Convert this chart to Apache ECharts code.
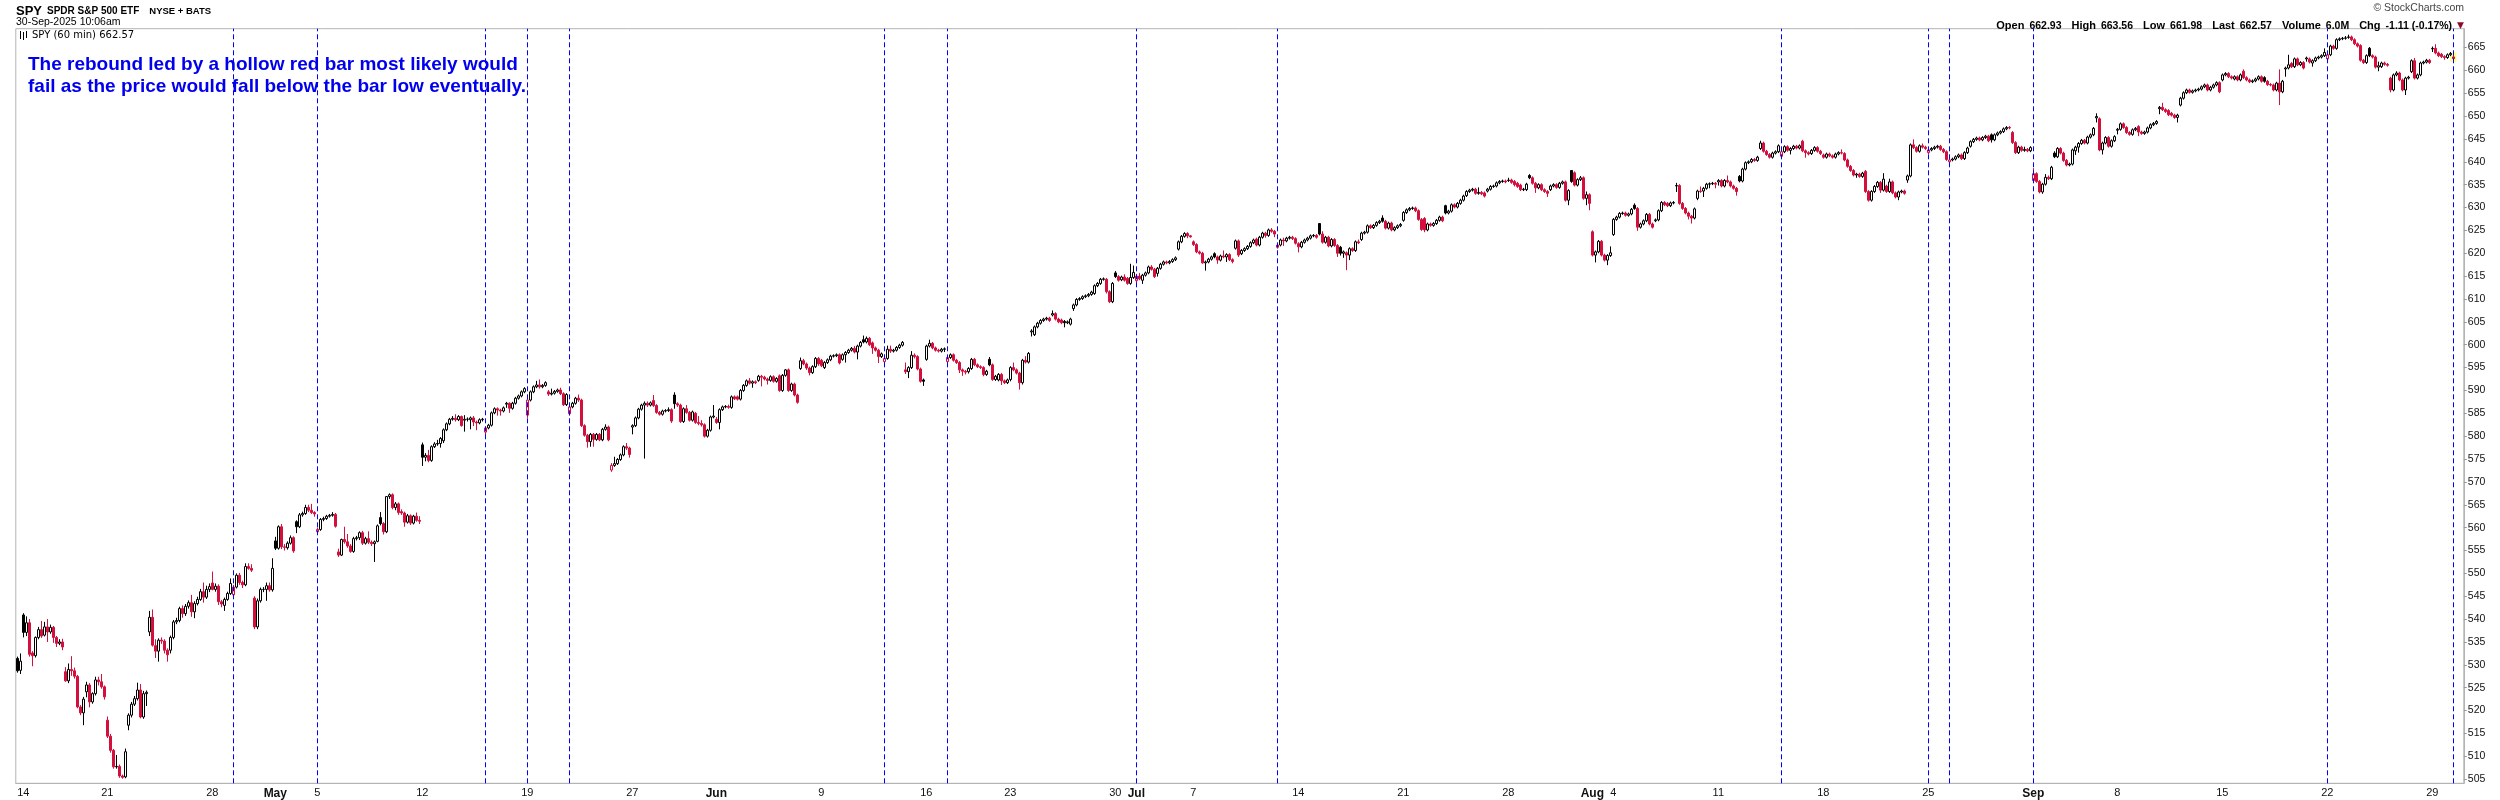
<!DOCTYPE html>
<html><head><meta charset="utf-8">
<script src="https://cdn.jsdelivr.net/npm/echarts@6/dist/echarts.min.js"></script>
<style>html,body{margin:0;padding:0;background:#fff}#c{width:2500px;height:800px}</style>
</head><body><div id="c"></div>
<script>
// Hourly candles per trading day: [open, close, low, high]
const APR = [
['04-11',[[531.4,528.7,528.3,531.8],[528.8,530.8,528.0,532.5]]],
['04-14',[[540.9,537.1,536.0,541.3],[537.1,539.2,536.3,540.6],[539.2,532.3,531.8,540.0],[532.6,532.0,529.7,533.0],[532.0,536.0,531.6,536.2],[536.0,537.7,535.6,538.3],[537.7,536.3,535.9,539.6]]],
['04-15',[[536.5,538.3,536.2,539.4],[538.3,537.2,535.0,540.0],[537.2,538.2,536.8,538.8],[538.2,536.0,534.8,538.5],[536.0,534.7,533.9,536.3],[534.7,535.0,534.3,535.6],[535.0,533.9,533.2,535.7]]],
['04-16',[[528.5,526.5,526.3,529.5],[526.5,529.0,526.0,530.3],[529.0,528.7,527.6,531.9],[528.7,527.5,527.0,529.4],[527.5,520.8,520.5,527.8],[520.8,519.5,519.0,521.2],[519.5,522.5,516.8,523.0]]],
['04-17',[[524.1,525.6,522.9,526.3],[525.6,521.9,520.7,526.0],[521.9,523.7,521.5,524.0],[523.7,526.7,523.3,527.4],[526.7,526.3,525.5,527.4],[526.3,525.2,524.8,528.0],[525.2,523.0,522.4,525.5]]],
['04-21',[[517.9,514.4,514.0,518.7],[514.4,511.3,510.8,514.9],[511.3,507.7,507.3,511.6],[507.7,507.8,507.3,510.3],[507.8,505.7,505.3,508.2],[505.7,505.4,505.1,506.0],[505.5,511.0,505.2,511.7]]],
['04-22',[[516.8,519.0,515.7,519.4],[519.0,521.4,518.5,521.9],[521.4,522.6,521.0,523.2],[522.6,524.5,522.2,526.1],[524.5,518.6,518.3,525.8],[518.6,523.7,518.2,524.3],[523.7,524.0,521.0,524.4]]],
['04-23',[[537.2,540.4,536.3,541.8],[540.4,534.3,534.0,542.1],[534.2,533.0,531.5,535.6],[533.0,535.4,530.7,535.8],[535.4,535.2,534.6,536.0],[535.2,533.2,532.5,535.6],[533.2,532.2,530.7,533.6]]],
['04-24',[[533.2,536.0,532.5,536.4],[536.0,539.4,535.6,539.8],[539.4,539.7,538.9,540.3],[539.7,542.3,539.3,542.7],[542.3,541.2,540.3,543.0],[541.2,542.8,540.7,543.3],[542.8,543.6,542.3,544.1]]],
['04-25',[[543.6,541.6,540.5,545.3],[541.6,543.4,540.2,543.9],[543.4,544.3,543.0,544.9],[544.3,546.0,544.0,546.6],[546.0,544.8,543.6,548.0],[544.8,546.5,544.4,547.3],[546.5,547.1,545.9,547.8]]],
['04-28',[[547.9,546.5,546.3,550.4],[546.5,547.2,546.0,547.8],[547.2,543.8,543.1,547.6],[543.8,543.3,542.6,544.2],[543.0,544.3,541.8,544.7],[544.3,545.6,544.0,546.0],[545.6,547.8,545.3,548.9]]],
['04-29',[[545.3,547.0,544.9,547.5],[547.0,549.6,546.7,550.0],[549.6,548.0,547.5,550.1],[548.0,547.5,546.8,548.4],[547.5,551.5,547.2,552.2],[551.5,551.1,550.8,552.2],[551.1,550.7,550.3,552.0]]],
['04-30',[[544.6,538.3,537.8,545.0],[538.3,544.0,537.8,544.5],[544.0,546.5,543.6,546.9],[546.5,546.5,545.9,547.0],[546.5,547.3,544.0,548.0],[547.3,546.4,546.0,548.0],[546.4,551.1,546.0,553.3]]]
];
const MAY = [
['05-01',[[557.1,555.5,555.1,558.0],[555.5,560.2,555.2,560.5],[560.2,555.8,555.3,560.8],[555.8,555.7,555.0,556.4],[555.6,556.6,555.2,557.0],[556.6,557.8,556.3,558.3],[557.8,554.9,554.5,558.1]]],
['05-02',[[561.3,560.2,558.8,561.6],[560.2,562.8,559.9,563.2],[562.8,563.1,562.4,563.5],[563.1,564.4,562.8,565.0],[564.4,563.8,563.4,565.0],[563.8,563.3,563.0,565.2],[563.3,563.0,562.4,563.6]]],
['05-05',[[559.1,559.6,558.9,560.0],[559.6,561.8,559.3,562.1],[561.8,562.0,561.4,562.4],[562.0,562.5,561.7,562.8],[562.5,562.7,562.2,563.0],[562.7,562.9,562.4,563.4],[562.9,560.3,560.0,563.2]]],
['05-06',[[554.7,554.0,553.6,555.4],[554.0,557.4,553.8,557.6],[557.4,556.9,556.5,560.2],[556.9,556.0,555.6,558.6],[556.0,554.8,554.5,556.4],[554.8,557.6,554.5,558.0],[557.6,557.8,557.2,558.2]]],
['05-07',[[557.8,558.9,557.3,559.2],[558.9,556.6,556.2,559.3],[556.6,557.6,556.3,558.0],[557.6,556.8,556.4,559.2],[556.8,556.5,556.0,557.2],[556.5,556.9,552.5,557.2],[557.0,560.4,556.8,560.7]]],
['05-08',[[562.2,560.9,560.5,563.4],[560.9,559.1,558.5,561.2],[559.1,566.8,558.8,566.9],[566.8,567.2,566.3,567.5],[567.2,564.4,564.0,567.5],[564.4,565.2,563.8,565.6],[565.2,563.3,562.8,565.5]]],
['05-09',[[563.5,563.2,562.8,564.0],[563.2,561.2,560.2,563.5],[561.2,562.6,560.9,563.0],[562.6,561.0,560.6,562.9],[561.0,562.5,560.7,562.8],[562.5,561.6,561.3,563.3],[561.6,561.4,560.8,562.5]]],
['05-12',[[578.1,575.4,573.5,578.6],[575.4,575.8,574.5,576.3],[575.8,574.7,574.3,577.0],[574.7,577.7,574.4,578.0],[577.7,578.3,577.4,578.7],[578.3,578.4,577.9,579.2],[578.4,579.5,577.5,579.8]]],
['05-13',[[579.0,581.4,578.5,581.7],[581.4,582.7,581.1,583.0],[582.7,583.7,582.4,584.0],[583.7,583.9,583.4,584.4],[583.9,583.6,583.2,584.8],[583.6,584.3,583.3,584.6],[584.3,582.3,582.1,584.5]]],
['05-14',[[583.5,583.7,581.0,584.6],[583.7,583.7,583.2,584.1],[583.6,584.0,581.5,584.3],[584.0,583.1,582.2,584.4],[583.1,582.9,581.3,583.4],[582.9,583.6,582.6,583.9],[583.6,583.7,583.2,584.0]]],
['05-15',[[580.9,581.8,580.0,582.1],[581.8,582.4,581.5,582.7],[582.4,585.1,582.1,585.4],[585.1,586.0,584.8,586.3],[586.0,585.7,584.5,586.3],[585.7,585.5,584.5,586.0],[585.5,586.2,585.2,586.5]]],
['05-16',[[587.0,587.2,586.2,587.5],[587.2,586.1,585.1,587.4],[586.1,587.2,585.8,587.5],[587.2,588.3,586.9,588.6],[588.3,588.8,588.0,589.1],[588.8,589.7,588.5,590.0],[589.7,590.4,589.4,590.7]]],
['05-19',[[584.6,587.9,584.0,588.2],[587.9,589.7,587.6,590.0],[589.7,590.8,589.4,591.1],[590.8,591.2,590.5,592.1],[591.2,590.8,590.4,592.4],[590.8,591.1,590.5,591.4],[591.1,591.7,590.8,592.0]]],
['05-20',[[589.7,589.2,588.8,590.1],[589.2,589.4,588.9,590.4],[589.4,589.8,589.1,590.1],[589.8,590.1,589.5,590.4],[590.1,589.3,589.0,590.6],[589.3,586.9,586.6,589.6],[586.9,589.1,586.6,589.4]]],
['05-21',[[584.9,586.4,584.5,586.7],[586.4,587.2,586.1,587.5],[587.2,588.3,586.9,588.6],[588.3,587.9,587.5,589.1],[587.9,582.3,582.0,588.2],[582.3,580.2,579.9,582.6],[580.2,578.8,577.5,580.5]]],
['05-22',[[578.8,580.4,577.7,580.7],[580.4,579.3,577.7,580.7],[579.3,580.4,579.0,580.7],[580.4,579.2,578.9,580.7],[579.2,581.5,578.9,581.8],[581.5,582.0,581.2,582.6],[582.0,579.2,578.9,582.3]]],
['05-23',[[572.6,573.6,572.2,574.1],[573.6,574.0,573.3,575.5],[574.0,574.9,573.7,575.2],[574.9,575.9,574.6,576.2],[575.9,577.7,575.6,578.0],[577.7,577.4,577.0,578.5],[577.4,576.0,575.3,577.7]]],
['05-27',[[582.0,582.3,580.4,582.6],[582.3,584.0,582.0,584.3],[584.0,585.9,583.7,586.2],[585.9,586.8,585.6,587.1],[586.8,587.2,575.1,587.6],[587.2,586.8,586.4,587.6],[586.8,587.3,586.5,587.6]]],
['05-28',[[587.8,586.7,586.4,589.0],[586.7,585.2,584.9,587.0],[585.2,584.8,584.5,585.5],[584.8,585.5,584.5,585.8],[585.5,585.6,585.2,585.9],[585.6,585.8,585.3,586.3],[585.8,583.3,582.9,586.1]]],
['05-29',[[589.0,587.1,586.0,589.6],[587.1,586.8,586.4,587.4],[586.8,583.2,582.9,587.1],[583.2,586.0,582.9,586.3],[586.0,585.2,584.9,586.8],[585.2,583.5,583.2,585.5],[583.5,585.3,583.2,585.6]]],
['05-30',[[585.0,583.0,582.7,585.3],[583.0,582.8,582.4,584.4],[582.8,582.5,582.1,583.5],[582.5,580.0,579.7,582.8],[580.0,581.3,579.7,581.6],[581.3,584.2,581.0,584.5],[584.2,584.4,583.9,586.8]]]
];
const JUN = [
['06-02',[[583.7,583.0,582.7,584.2],[583.0,585.8,581.5,586.1],[585.8,586.4,585.5,586.7],[586.4,586.5,586.1,586.8],[586.5,586.3,586.0,586.9],[586.3,588.6,586.0,588.9],[588.6,588.2,587.9,588.9]]],
['06-03',[[588.6,588.1,587.8,588.9],[588.1,590.0,587.8,590.3],[590.0,591.1,589.7,591.4],[591.1,592.1,590.8,592.4],[592.1,591.6,591.3,592.7],[591.6,591.9,590.6,592.2],[591.9,591.7,591.4,592.2]]],
['06-04',[[592.2,593.1,591.9,593.4],[593.1,592.9,590.9,593.4],[592.9,592.5,592.2,593.2],[592.5,592.2,591.3,592.8],[592.2,593.0,591.9,593.3],[593.0,592.0,591.7,593.3],[592.0,592.6,591.7,592.9]]],
['06-05',[[593.2,590.0,589.7,593.5],[590.0,593.3,589.7,593.6],[593.3,594.5,593.0,594.7],[594.5,590.0,589.7,594.8],[590.0,591.4,589.7,591.7],[591.4,589.0,588.7,591.7],[589.0,587.4,587.1,589.3]]],
['06-06',[[594.8,596.5,594.5,597.2],[596.5,595.8,595.5,596.9],[595.8,594.9,594.5,596.1],[594.9,593.9,593.3,595.2],[593.9,595.2,593.6,595.5],[595.2,597.0,594.9,597.3],[597.0,595.8,595.4,597.3]]],
['06-09',[[596.6,595.4,595.1,596.9],[595.0,596.1,594.7,596.4],[596.1,596.7,595.8,597.0],[596.7,597.5,596.4,597.8],[597.5,597.6,597.2,597.9],[597.6,597.8,597.3,598.1],[597.8,596.0,595.7,598.1]]],
['06-10',[[596.8,597.8,596.5,598.1],[597.8,598.3,596.1,598.6],[598.3,598.8,598.0,599.1],[598.8,599.2,598.5,599.5],[599.2,598.4,598.1,599.7],[598.4,599.7,596.8,600.0],[599.7,600.5,599.4,600.8]]],
['06-11',[[601.1,600.6,600.3,602.0],[600.6,601.4,600.3,601.8],[601.4,600.0,599.7,601.7],[600.4,599.3,598.0,600.7],[599.3,598.8,598.5,599.6],[598.8,597.4,596.0,599.1],[597.4,598.0,597.1,598.3]]],
['06-12',[[596.3,597.0,595.8,597.3],[597.0,599.0,596.7,599.8],[599.0,598.6,598.2,599.8],[598.6,598.8,598.3,599.1],[598.8,599.4,598.5,599.7],[599.4,599.9,599.1,600.2],[599.9,600.5,599.6,600.8]]],
['06-13',[[594.5,594.1,593.6,596.1],[594.1,595.0,592.7,595.3],[595.0,597.7,594.7,598.6],[597.7,597.4,597.0,598.1],[597.4,594.7,594.4,597.7],[594.7,592.0,591.7,595.0],[592.3,592.0,591.0,592.6]]],
['06-16',[[596.8,599.7,596.5,600.0],[599.7,600.3,599.4,601.1],[600.3,599.3,599.0,600.6],[599.3,598.8,598.5,599.6],[598.8,598.6,598.3,599.1],[598.6,599.0,598.3,599.3],[599.0,599.1,598.4,599.4]]],
['06-17',[[596.3,597.2,595.6,597.7],[597.2,597.8,596.9,598.1],[597.8,596.6,596.3,598.1],[596.6,596.1,595.8,596.9],[596.1,594.5,593.8,596.4],[594.5,594.2,593.2,594.8],[594.2,594.0,593.5,594.5]]],
['06-18',[[594.1,594.8,593.7,595.1],[594.8,596.8,594.5,597.1],[596.8,595.6,595.3,597.1],[595.6,595.2,594.9,595.9],[595.2,595.0,594.7,595.5],[595.0,593.5,593.1,595.3],[593.5,594.2,593.2,594.5]]],
['06-20',[[596.8,595.6,595.3,597.3],[595.6,592.4,592.1,595.9],[592.4,593.1,592.1,593.4],[592.3,593.5,592.0,593.8],[593.5,592.1,591.2,593.8],[592.1,591.7,591.4,592.4],[591.7,592.3,591.4,592.6]]],
['06-23',[[592.4,595.0,592.0,595.3],[595.0,594.5,594.2,596.1],[594.5,593.8,593.5,594.8],[593.8,591.7,590.2,594.1],[591.7,596.6,591.3,596.9],[596.6,596.2,595.9,597.5],[596.2,598.1,595.9,598.4]]],
['06-24',[[602.8,603.0,601.8,603.4],[602.2,603.9,601.9,604.2],[603.9,604.7,603.6,605.0],[604.7,605.3,604.4,605.6],[605.3,605.6,605.0,605.9],[605.6,605.8,605.3,606.1],[605.8,605.3,605.0,606.1]]],
['06-25',[[606.5,606.8,606.2,607.5],[606.8,605.6,605.3,607.1],[605.6,605.0,604.7,605.9],[605.4,604.8,604.5,605.7],[605.1,604.8,603.8,605.4],[604.8,605.0,604.5,605.3],[604.5,605.6,604.2,605.9]]],
['06-26',[[607.9,608.7,607.4,609.0],[608.7,609.9,608.4,610.2],[609.9,610.1,609.6,610.4],[610.1,610.5,609.8,610.8],[610.5,610.7,610.2,611.0],[610.7,611.0,610.4,611.3],[611.0,611.5,610.7,611.8]]],
['06-27',[[611.2,612.9,610.9,613.2],[612.9,613.4,612.6,613.7],[613.4,614.3,613.1,614.6],[614.3,614.4,614.0,614.7],[614.3,611.6,611.2,614.6],[611.6,609.4,609.1,611.9],[609.4,613.4,609.1,613.7]]],
['06-30',[[615.7,614.9,614.6,616.1],[614.9,614.1,613.8,615.2],[614.2,614.8,613.9,615.1],[614.8,614.1,613.8,615.4],[614.5,613.4,613.1,614.8],[613.4,614.7,613.1,617.7],[614.7,615.8,614.4,617.3]]]
];
const JUL = [
['07-01',[[614.0,615.0,613.5,615.5],[615.0,614.4,614.1,615.7],[614.1,615.2,613.3,615.5],[615.2,615.7,614.9,616.0],[615.7,617.0,615.4,617.3],[617.0,616.5,616.2,617.4],[616.5,614.9,614.6,616.8]]],
['07-02',[[615.6,616.7,614.9,617.0],[616.7,617.6,616.4,617.9],[617.6,618.1,617.3,618.4],[618.1,617.9,617.6,618.4],[617.9,618.2,617.6,618.5],[618.2,618.6,617.9,618.9],[618.6,619.0,618.3,619.3]]],
['07-03',[[620.9,622.5,620.6,622.8],[622.5,623.7,622.2,624.0],[623.7,624.3,623.4,624.6],[624.3,623.8,623.3,624.6],[623.8,623.6,623.4,624.0]]],
['07-07',[[622.5,621.9,621.6,622.8],[621.9,620.3,620.0,622.2],[620.3,620.0,619.7,620.6],[620.0,617.9,617.7,620.3],[617.9,618.1,616.2,618.4],[618.1,618.7,617.8,619.0],[618.7,619.2,618.4,619.5]]],
['07-08',[[619.9,619.2,618.9,620.2],[619.2,618.5,617.7,619.5],[618.5,619.4,618.2,619.7],[619.4,619.2,618.9,620.6],[619.2,619.7,618.1,620.0],[619.7,618.6,618.3,620.0],[618.6,618.2,617.8,618.9]]],
['07-09',[[621.1,622.7,620.8,623.0],[622.7,619.6,619.2,623.0],[619.9,620.6,619.6,620.9],[620.6,621.0,620.3,621.3],[621.0,621.5,620.7,621.8],[621.5,622.3,621.2,622.6],[622.3,622.9,622.0,623.2]]],
['07-10',[[623.1,621.8,621.5,623.4],[621.8,623.5,621.5,623.8],[623.5,624.4,623.2,624.7],[624.4,623.9,623.4,624.7],[623.9,625.1,623.6,625.4],[625.1,624.8,624.5,625.5],[624.8,624.2,623.5,625.1]]],
['07-11',[[621.3,621.8,621.0,622.1],[621.8,622.9,621.5,623.2],[622.9,622.7,621.6,623.4],[622.7,623.3,622.4,623.6],[623.3,623.5,623.0,623.8],[623.5,623.2,622.9,623.8],[623.2,622.2,621.9,623.5]]],
['07-14',[[622.1,621.4,620.2,622.4],[621.4,622.4,621.1,622.7],[622.4,622.9,622.1,623.2],[622.9,623.3,622.6,623.6],[623.3,623.8,623.0,624.1],[623.8,623.9,623.5,624.2],[623.9,623.5,623.2,624.2]]],
['07-15',[[626.5,624.2,623.9,626.6],[624.2,622.4,622.1,624.8],[622.4,623.5,622.1,623.8],[623.5,621.6,621.3,623.8],[621.6,623.0,621.3,623.3],[623.0,621.7,621.4,623.3],[621.7,620.0,619.2,622.0]]],
['07-16',[[621.3,620.0,619.5,621.6],[620.0,620.3,619.0,620.6],[620.1,619.6,616.3,620.4],[619.6,621.0,618.5,621.3],[621.0,620.6,620.3,621.3],[620.6,622.5,620.3,622.8],[622.5,622.3,622.0,623.0]]],
['07-17',[[623.0,624.4,622.7,624.7],[624.4,624.6,624.1,624.9],[624.6,626.0,624.3,626.3],[626.0,625.6,625.3,626.3],[625.6,626.1,625.3,626.4],[626.1,626.7,625.8,627.0],[626.7,627.0,626.4,627.3]]],
['07-18',[[627.7,627.0,626.7,628.3],[627.0,625.5,625.2,627.3],[625.5,626.6,625.2,626.9],[626.6,625.1,624.8,626.9],[625.1,625.6,624.8,625.9],[625.6,626.0,625.3,626.3],[626.0,626.3,625.7,626.6]]],
['07-21',[[627.2,628.9,626.9,629.2],[628.9,629.5,628.6,629.8],[629.5,629.8,629.2,630.1],[629.8,629.9,629.5,630.2],[629.9,629.3,629.0,630.2],[629.3,627.4,627.1,629.6],[627.4,625.2,624.9,627.7]]],
['07-22',[[627.6,625.1,624.6,627.9],[625.1,626.4,624.8,626.7],[626.4,626.1,625.8,626.7],[626.1,626.5,625.8,626.8],[626.5,627.2,626.2,627.5],[627.2,627.9,626.9,628.2],[627.9,627.1,626.8,628.2]]],
['07-23',[[630.4,628.8,628.5,630.6],[628.8,629.2,628.5,629.5],[629.2,630.6,628.9,630.9],[630.6,630.1,629.8,630.9],[630.1,630.9,629.8,631.2],[630.9,631.6,630.6,631.9],[631.6,632.5,631.3,632.8]]],
['07-24',[[632.6,633.5,632.3,633.8],[633.5,633.8,633.2,634.1],[633.8,634.0,633.5,634.3],[634.0,633.1,632.8,634.3],[633.1,633.3,632.8,634.4],[633.3,633.0,632.7,633.6],[633.2,632.5,632.2,633.5]]],
['07-25',[[633.6,634.0,633.3,634.3],[634.0,634.6,633.7,634.9],[634.6,634.7,634.3,635.0],[634.7,635.4,634.4,635.7],[635.4,635.7,635.1,636.0],[635.7,635.8,635.4,636.1],[635.8,635.6,635.3,636.1]]],
['07-28',[[635.9,636.0,635.6,636.5],[636.0,635.5,635.2,636.3],[635.7,635.0,634.6,636.0],[635.3,634.6,634.3,635.6],[634.9,633.9,633.6,635.2],[633.9,634.0,633.6,634.3],[633.9,635.1,633.6,635.4]]],
['07-29',[[637.0,636.5,636.2,637.3],[636.5,635.3,635.0,636.8],[635.3,634.3,633.2,635.6],[634.3,635.0,634.0,635.3],[635.0,633.9,633.6,635.3],[633.9,633.5,633.2,634.2],[633.5,633.1,632.3,633.8]]],
['07-30',[[633.9,634.7,633.6,635.0],[634.7,635.0,634.4,635.3],[635.0,634.4,634.1,635.3],[634.4,635.3,634.1,635.6],[635.3,635.6,635.0,635.9],[635.6,631.6,631.3,635.9],[631.6,633.7,630.5,634.0]]],
['07-31',[[638.1,635.7,635.4,638.2],[637.6,634.9,634.6,637.9],[634.9,636.1,634.6,636.4],[636.1,636.5,635.8,636.9],[636.5,632.0,631.7,636.8],[632.0,632.8,630.5,633.5],[632.8,630.9,629.4,633.1]]]
];
const AUG = [
['08-01',[[624.7,619.6,619.3,625.0],[619.6,620.3,618.0,620.6],[620.3,622.6,620.0,622.9],[622.6,619.6,619.3,622.9],[619.6,618.5,618.2,619.9],[618.5,619.5,617.4,619.8],[619.5,620.1,619.2,621.5]]],
['08-04',[[624.1,627.4,623.8,627.7],[627.4,627.9,627.1,628.2],[627.9,628.7,627.6,629.0],[628.7,628.8,628.4,629.1],[628.8,628.3,628.0,629.1],[628.3,628.6,628.0,628.9],[628.6,629.6,628.3,629.9]]],
['08-05',[[630.5,629.8,629.5,630.9],[629.8,625.7,624.9,630.1],[625.7,626.4,625.4,626.7],[626.4,627.1,626.1,627.4],[627.1,628.5,626.8,628.8],[628.5,626.4,626.1,628.8],[626.4,625.7,625.4,626.7]]],
['08-06',[[627.1,627.3,626.8,627.6],[627.3,629.3,627.0,629.6],[629.3,631.1,629.0,631.4],[631.1,630.6,630.3,631.4],[630.9,630.4,630.1,631.2],[630.4,631.0,630.1,631.3],[631.0,631.1,630.7,631.4]]],
['08-07',[[634.7,634.8,633.4,635.4],[634.8,630.9,630.6,635.1],[630.9,629.8,629.5,631.2],[629.8,628.8,628.5,630.1],[628.8,628.1,627.4,629.1],[628.1,627.7,626.5,628.4],[627.7,629.7,627.4,630.0]]],
['08-08',[[632.0,633.6,631.6,633.9],[633.6,633.5,633.2,634.6],[633.6,634.2,632.3,634.5],[634.2,635.1,633.9,635.4],[635.1,635.2,634.2,635.5],[635.2,635.3,634.9,635.6],[635.3,635.1,634.2,635.6]]],
['08-11',[[635.6,635.9,634.8,636.2],[635.9,634.7,634.4,636.2],[634.7,635.9,634.4,636.2],[635.9,635.6,635.3,637.0],[635.6,634.7,634.4,635.9],[634.7,634.2,633.9,635.0],[634.2,633.5,632.6,634.5]]],
['08-12',[[636.8,635.8,635.5,637.1],[635.8,638.4,635.5,638.7],[638.4,639.8,638.1,640.1],[639.8,640.0,639.5,640.3],[640.0,640.5,639.7,640.8],[640.5,640.3,640.0,640.8],[640.3,641.0,640.0,641.3]]],
['08-13',[[642.9,644.1,642.6,644.6],[644.1,642.3,642.0,644.4],[642.3,641.6,641.3,642.6],[641.6,641.0,640.7,641.9],[641.0,641.9,640.7,642.2],[641.9,642.2,641.6,642.5],[642.2,643.5,641.9,643.8]]],
['08-14',[[641.2,642.2,640.6,642.5],[642.2,643.3,641.9,643.6],[643.3,642.5,642.2,643.6],[642.5,642.9,641.6,643.2],[642.9,643.4,642.6,643.7],[643.4,643.0,642.7,643.7],[643.0,643.5,642.7,643.8]]],
['08-15',[[644.5,642.4,642.1,644.8],[642.4,642.0,640.9,642.7],[642.0,641.7,641.4,642.3],[641.8,642.5,641.5,642.8],[642.5,643.1,642.2,643.4],[643.1,642.3,642.0,643.4],[642.3,641.8,641.5,642.6]]],
['08-18',[[641.5,641.0,640.7,641.8],[641.0,641.7,640.7,642.0],[641.7,641.3,641.0,642.0],[641.3,641.0,640.7,641.6],[641.0,641.7,640.7,642.0],[641.7,642.0,641.4,642.3],[642.0,641.9,641.6,642.7]]],
['08-19',[[641.8,640.4,640.1,642.1],[640.4,639.0,638.7,640.7],[639.0,638.1,637.8,639.3],[638.1,637.1,636.8,638.4],[637.1,637.3,636.5,637.6],[637.3,636.8,636.5,637.6],[636.8,637.5,636.5,637.8]]],
['08-20',[[637.9,633.5,633.2,638.2],[633.5,631.6,631.3,633.8],[631.6,633.5,631.3,633.8],[633.5,634.6,633.2,634.9],[634.6,635.5,634.3,635.8],[635.5,633.8,633.2,635.8],[633.8,636.2,633.5,637.5]]],
['08-21',[[634.7,633.5,633.2,635.0],[633.5,635.6,633.2,636.3],[635.6,633.2,632.9,635.9],[633.2,632.3,632.0,633.5],[632.3,633.4,631.6,633.7],[633.4,633.6,633.1,633.9],[633.6,633.1,632.8,633.9]]],
['08-22',[[636.0,636.9,635.4,637.2],[636.9,643.7,636.6,644.0],[643.7,643.1,642.8,644.9],[643.1,642.3,642.0,643.4],[642.3,643.5,642.0,643.8],[643.5,643.2,642.9,644.0],[643.2,642.9,642.6,643.5]]],
['08-25',[[642.0,642.6,641.7,642.9],[642.6,642.9,642.3,643.2],[642.9,643.2,642.6,643.5],[643.2,643.4,642.9,643.7],[643.4,642.7,642.4,643.7],[642.7,642.2,641.9,643.0],[642.2,640.5,640.2,642.5]]],
['08-26',[[640.0,640.4,639.7,640.7],[640.4,640.6,640.1,640.9],[640.6,641.1,640.3,641.4],[641.1,641.5,640.8,641.8],[641.5,640.7,640.4,641.8],[640.7,642.0,640.4,642.3],[642.0,643.0,641.7,643.3]]],
['08-27',[[643.4,644.4,643.1,644.7],[644.4,644.9,644.1,645.2],[644.9,645.2,644.6,645.5],[645.2,644.8,644.5,645.5],[644.8,645.3,644.5,645.6],[645.3,645.6,645.0,645.9],[645.6,644.6,644.3,645.9]]],
['08-28',[[645.9,644.8,644.2,646.2],[644.8,645.9,644.5,646.2],[645.9,646.3,645.6,646.6],[646.3,646.6,646.0,646.9],[646.6,647.2,646.3,647.5],[647.2,647.5,646.9,647.8],[647.5,647.4,647.1,647.8]]],
['08-29',[[646.4,644.2,643.9,646.7],[644.2,642.0,641.7,644.5],[642.0,643.2,641.7,643.5],[643.2,642.5,642.2,643.5],[642.5,642.7,642.2,643.3],[642.7,642.4,642.1,643.0],[642.4,643.1,642.1,643.4]]]
];
const SEP = [
['09-02',[[635.9,637.4,635.5,638.6],[637.4,635.7,635.4,637.7],[635.7,633.4,633.1,636.0],[633.4,635.1,633.0,635.4],[635.1,636.6,634.8,637.3],[636.6,636.3,636.0,637.0],[636.3,638.8,636.0,639.1]]],
['09-03',[[641.9,641.1,640.8,642.3],[641.1,642.9,640.8,643.2],[642.9,641.9,641.6,643.2],[641.9,640.3,640.0,642.2],[640.3,639.3,639.0,640.6],[639.3,639.5,639.0,639.8],[639.5,642.6,639.2,642.9]]],
['09-04',[[642.4,643.2,641.5,643.5],[643.2,644.0,642.0,644.3],[644.0,644.7,643.7,645.0],[644.7,644.1,643.8,645.0],[644.1,645.4,643.8,645.7],[645.4,645.9,645.1,646.2],[645.9,647.3,645.6,647.6]]],
['09-05',[[649.6,649.9,648.6,650.6],[649.4,642.6,642.3,649.7],[642.6,644.1,641.6,644.4],[644.1,645.3,643.8,645.6],[645.3,643.4,643.1,645.6],[643.4,644.6,643.1,644.9],[644.6,645.5,644.3,645.8]]],
['09-08',[[646.9,647.1,646.0,647.4],[647.1,648.3,646.8,648.6],[648.3,647.5,647.2,648.6],[647.5,646.4,646.1,647.8],[646.4,646.0,645.7,646.7],[646.0,647.0,645.7,647.3],[647.0,647.3,646.7,647.6]]],
['09-09',[[647.7,646.5,645.6,648.0],[646.5,646.2,645.9,646.8],[646.2,646.5,645.9,646.8],[646.5,647.4,646.2,647.7],[647.4,648.1,647.1,648.4],[648.1,648.4,647.8,648.7],[648.4,648.8,648.1,649.1]]],
['09-10',[[651.6,651.9,650.4,652.2],[651.9,651.4,651.1,652.9],[651.4,651.0,650.7,651.7],[651.2,650.3,650.0,651.5],[650.6,650.2,649.9,650.9],[650.2,649.7,649.4,650.5],[649.7,650.2,648.6,650.5]]],
['09-11',[[652.4,653.9,652.1,654.2],[653.9,655.1,653.6,655.4],[655.1,655.7,654.8,656.0],[655.7,655.2,654.9,656.0],[655.2,655.5,654.9,655.8],[655.5,655.7,655.2,656.0],[655.7,655.9,655.4,656.2]]],
['09-12',[[655.9,656.4,655.6,656.7],[656.4,656.8,656.1,657.1],[656.8,655.7,655.4,657.1],[655.7,656.3,655.4,656.6],[656.3,656.8,656.0,657.1],[656.8,657.3,656.5,657.6],[657.3,655.3,655.0,657.6]]],
['09-15',[[657.9,659.0,657.6,659.3],[659.0,659.3,658.7,659.6],[659.3,658.6,658.3,659.6],[658.6,658.3,658.0,658.9],[658.1,658.6,657.8,658.9],[658.6,657.9,657.6,658.9],[657.9,659.0,657.6,659.3]]],
['09-16',[[659.8,658.4,658.1,660.2],[658.4,657.9,657.6,658.7],[657.9,657.5,657.2,658.2],[657.5,657.7,657.2,658.0],[657.7,658.1,657.4,658.4],[658.1,658.6,657.8,658.9],[658.6,657.6,657.3,658.9]]],
['09-17',[[658.4,657.6,657.3,658.7],[657.6,656.9,656.6,657.9],[656.9,656.8,656.5,657.2],[656.8,655.7,655.4,657.1],[655.7,657.2,655.4,657.5],[657.2,655.3,652.4,660.2],[655.3,657.6,655.0,657.9]]],
['09-18',[[660.3,660.5,658.6,660.8],[660.5,661.2,660.2,663.4],[661.5,660.8,660.5,661.8],[660.8,662.5,660.5,662.8],[662.5,661.2,660.9,662.8],[661.2,661.7,660.9,662.0],[661.7,660.5,660.2,662.0]]],
['09-19',[[662.5,662.7,661.9,663.0],[662.5,661.8,661.5,662.8],[661.6,662.1,660.8,662.4],[662.1,662.7,661.8,663.0],[662.7,662.9,662.4,663.2],[662.9,663.2,662.6,663.5],[663.2,663.9,662.9,664.8]]],
['09-22',[[662.5,663.4,662.0,663.6],[663.4,665.3,663.1,665.6],[665.3,664.8,664.5,665.6],[664.8,666.7,664.5,667.0],[666.7,666.9,666.4,667.2],[666.9,667.0,666.6,667.3],[667.0,667.1,666.7,667.5]]],
['09-23',[[667.2,667.3,666.9,667.8],[667.3,666.7,666.4,667.6],[666.7,665.8,665.5,667.0],[665.8,665.3,665.0,666.1],[665.4,662.2,661.9,665.7],[662.2,661.7,661.4,662.5],[661.7,663.2,661.4,663.5]]],
['09-24',[[664.8,663.2,662.9,665.1],[663.2,662.9,662.6,663.5],[662.9,660.7,660.4,663.2],[660.7,661.0,659.8,661.9],[660.8,661.6,660.5,661.9],[661.6,661.3,661.0,661.9],[661.3,661.1,660.8,661.6]]],
['09-25',[[658.3,655.7,655.2,658.6],[655.7,659.0,655.4,659.3],[659.0,659.4,658.7,659.8],[659.4,657.9,657.6,659.7],[657.9,655.7,655.4,658.2],[655.7,658.3,654.6,658.6],[658.3,658.5,658.0,658.8]]],
['09-26',[[659.7,662.1,659.4,662.4],[662.1,658.3,658.0,662.7],[658.3,659.0,658.0,659.3],[659.0,661.6,658.7,661.9],[661.6,661.8,661.3,662.1],[661.8,662.2,661.5,662.5],[662.2,661.7,661.4,662.5]]],
['09-29',[[664.7,664.8,664.0,665.2],[664.8,663.8,663.5,665.7],[663.8,663.2,662.9,664.1],[663.5,663.0,662.7,663.8],[663.0,662.8,662.3,663.3],[662.8,663.4,662.5,663.7],[663.4,663.7,663.1,664.0]]],
['09-30',[[662.93,662.57,661.98,663.56]]]
];
// Days whose first bar is marked with a dashed vertical line
const SIGNAL_DAYS = ['04-29','05-05','05-15','05-19','05-21','06-12','06-17','07-01','07-11','08-14','08-25','08-26','09-02','09-22','09-30'];
const PRICE_TICKS = [505,510,515,520,525,530,535,540,545,550,555,560,565,570,575,580,585,590,595,600,605,610,615,620,625,630,635,640,645,650,655,660,665];
const LAST_BAR_BOX = [661.9, 663.9];
const MONTHS = ['Jan','Feb','Mar','Apr','May','Jun','Jul','Aug','Sep','Oct','Nov','Dec'];
const RED = '#d3103c', BLACK = '#000000';

const allDays = [].concat(APR, MAY, JUN, JUL, AUG, SEP);
const cats = [], candles = [], labelMap = {};
let prevClose = null, prevDate = null;
allDays.forEach(([md, bars]) => {
  const d = new Date('2025-' + md + 'T12:00:00Z');
  let label = null;
  if (prevDate) {
    if (d.getUTCMonth() !== prevDate.getUTCMonth()) label = '{m|' + MONTHS[d.getUTCMonth()] + '}';
    else if (d.getUTCDay() <= prevDate.getUTCDay()) label = String(d.getUTCDate());
  }
  bars.forEach((b, j) => {
    const name = md + '#' + j;
    cats.push(name);
    if (j === 0 && label) labelMap[name] = label;
    const o = b[0], c = b[1];
    const col = (prevClose === null || c >= prevClose) ? BLACK : RED;
    const fill = c > o ? '#ffffff' : col;
    candles.push({ value: b, itemStyle: { color: fill, color0: fill, borderColor: col, borderColor0: col } });
    prevClose = c;
  });
  prevDate = d;
});
const lastName = cats[cats.length - 1], prevName = cats[cats.length - 2];
cats.push('pad0', 'pad1', 'pad2');

const chart = echarts.init(document.getElementById('c'), null, { renderer: 'canvas' });
chart.setOption({
  animation: false,
  backgroundColor: '#ffffff',
  title: [
    { left: 16, top: 2, padding: 0, text: '{a|SPY} {b|SPDR S&P 500 ETF}  {c|NYSE + BATS}',
      textStyle: { rich: {
        a: { fontSize: 13, fontWeight: 'bold', fontFamily: 'Liberation Sans', color: '#000' },
        b: { fontSize: 10, fontFamily: 'Liberation Sans', color: '#000' },
        c: { fontSize: 9.5, fontFamily: 'Liberation Sans', color: '#000' } } } },
    { left: 16, top: 17, padding: 0, text: '30-Sep-2025 10:06am',
      textStyle: { fontSize: 10.5, fontWeight: 'normal', fontFamily: 'Liberation Sans', color: '#000' } },
    { left: 32, top: 30, padding: 0, text: 'SPY (60 min) 662.57',
      textStyle: { fontSize: 10, fontWeight: 'normal', fontFamily: 'DejaVu Sans', color: '#000' } },
    { right: 36, top: 3, padding: 0, text: '© StockCharts.com',
      textStyle: { fontSize: 10.5, fontWeight: 'normal', fontFamily: 'Liberation Sans', color: '#444' } },
    { right: 36, top: 17, padding: 0,
      text: '{k|Open} {v|662.93}  {k|High} {v|663.56}  {k|Low} {v|661.98}  {k|Last} {v|662.57}  {k|Volume} {v|6.0M}  {k|Chg} {v|-1.11 (-0.17%)} {t|▼}',
      textStyle: { rich: {
        k: { fontSize: 11, fontWeight: 'bold', fontFamily: 'Liberation Sans', color: '#000' },
        v: { fontSize: 10.5, fontFamily: 'Liberation Sans', color: '#000' },
        t: { fontSize: 9, fontFamily: 'DejaVu Sans', color: '#8b0a2a' } } } },
    { left: 28, top: 54, padding: 0,
      text: 'The rebound led by a hollow red bar most likely would\nfail as the price would fall below the bar low eventually.',
      textStyle: { fontSize: 19, fontWeight: 'bold', fontFamily: 'Liberation Sans', color: '#0000ee', lineHeight: 22 } }
  ],
  graphic: [
    { type: 'line', shape: { x1: 20.5, y1: 31, x2: 20.5, y2: 39 }, style: { stroke: '#000', lineWidth: 1 } },
    { type: 'line', shape: { x1: 23.5, y1: 32, x2: 23.5, y2: 40 }, style: { stroke: '#000', lineWidth: 1 } },
    { type: 'line', shape: { x1: 26.5, y1: 31, x2: 26.5, y2: 38 }, style: { stroke: '#000', lineWidth: 1 } }
  ],
  grid: { left: 15.8, top: 28.7, width: 2448, height: 754.6, show: true, borderColor: '#b4b4b4', borderWidth: 1, containLabel: false },
  xAxis: {
    type: 'category', data: cats, boundaryGap: true,
    axisLine: { show: true, lineStyle: { color: '#b4b4b4' } },
    axisTick: { show: false },
    splitLine: { show: false },
    axisLabel: {
      interval: (i, v) => labelMap[v] !== undefined,
      formatter: v => labelMap[v] || '',
      margin: 4, fontSize: 11, color: '#111', fontFamily: 'Liberation Sans',
      rich: { m: { fontSize: 12, fontWeight: 'bold', fontFamily: 'Liberation Sans', color: '#111' } }
    }
  },
  yAxis: {
    type: 'value', position: 'right', min: 504.1, max: 669.1, scale: true,
    splitLine: { show: false },
    axisLine: { show: true, lineStyle: { color: '#b4b4b4' } },
    axisTick: { show: true, length: 3, customValues: PRICE_TICKS, lineStyle: { color: '#999' } },
    axisLabel: { customValues: PRICE_TICKS, margin: 4, fontSize: 10.5, color: '#111', fontFamily: 'Liberation Sans' }
  },
  series: [{
    type: 'candlestick',
    large: false,
    barWidth: 2,
    data: candles,
    itemStyle: { borderWidth: 1 },
    markArea: {
      silent: true,
      itemStyle: { color: 'rgba(255,255,90,0.75)' },
      data: [[{ xAxis: prevName, yAxis: LAST_BAR_BOX[1] }, { xAxis: 'pad0', yAxis: LAST_BAR_BOX[0] }]]
    },
    markLine: {
      silent: true, symbol: 'none', animation: false,
      label: { show: false },
      lineStyle: { color: '#0000ff', type: [5, 3], width: 1 },
      data: SIGNAL_DAYS.map(md => ({ xAxis: md + '#0' }))
    }
  }]
});
</script>
</body></html>
